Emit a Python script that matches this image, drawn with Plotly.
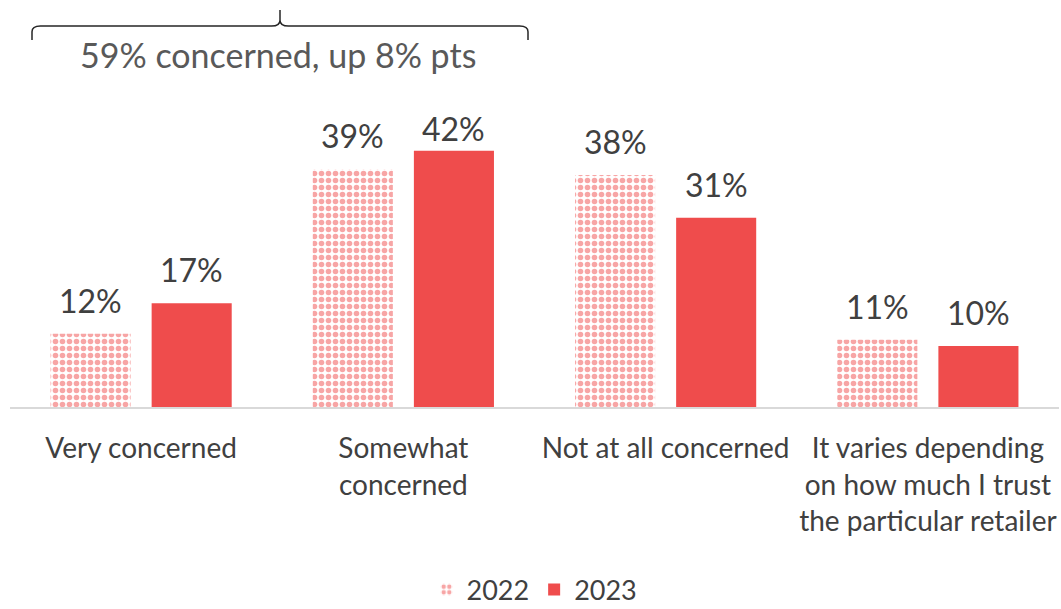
import plotly.graph_objects as go

categories = [
    "Very concerned",
    "Somewhat<br>concerned",
    "Not at all concerned",
    "It varies depending<br>on how much I trust<br>the particular retailer",
]
values_2022 = [12, 39, 38, 11]
values_2023 = [17, 42, 31, 10]
series_names = ["2022", "2023"]
bracket_text = "59% concerned, up 8% pts"

RED = "#EF4C4C"
TEXT = "#404040"
FONT = "Lato"

W, H = 1061, 609
M_L, M_R, M_T, M_B = 10, 2, 114, 202
PLOT_H = H - M_T - M_B
Y_MAX = 48
LABEL_CEIL = 42.1  # labels never sit higher than this value level


def py(pix):
    """Convert a pixel row on the canvas into paper y units."""
    return (H - M_B - pix) / PLOT_H


def px(pix):
    """Convert a pixel column on the canvas into paper x units."""
    return (pix - M_L) / (W - M_L - M_R)


fig = go.Figure()
fig.add_trace(go.Bar(
    name=series_names[0], x=categories, y=values_2022,
    marker=dict(color="white", line=dict(width=0),
                pattern=dict(shape=".", fgcolor=RED, bgcolor="white",
                             size=7, solidity=0.5, fillmode="overlay")),
))
fig.add_trace(go.Bar(
    name=series_names[1], x=categories, y=values_2023,
    marker=dict(color=RED, line=dict(width=0)),
))

# value labels above each bar, held below the top of the plot
units_per_px = Y_MAX / PLOT_H
annotations = []
for i, cat in enumerate(categories):
    for vals, shift in ((values_2022, -50.5), (values_2023, 50.5)):
        y_lab = min(vals[i] + 12 * units_per_px, LABEL_CEIL)
        annotations.append(dict(
            x=cat, y=y_lab, xref="x", yref="y", text=f"{vals[i]}%",
            showarrow=False, xshift=shift, yanchor="bottom",
            font=dict(family=FONT, size=32, color=TEXT),
        ))

annotations.append(dict(
    x=px(278), y=py(55), xref="paper", yref="paper", text=bracket_text,
    showarrow=False, xanchor="center", yanchor="middle",
    font=dict(family=FONT, size=34, color="#595959"),
))

# curly bracket spanning the two "concerned" categories
xl, xm, xr = px(32), px(280), px(528)
y_line, y_end, y_top = py(26), py(40), py(10)
r = 0.008
bracket = (
    f"M {xl},{y_end} L {xl},{y_line - 0.02} Q {xl},{y_line} {xl + r},{y_line} "
    f"L {xm - r},{y_line} Q {xm},{y_line} {xm},{y_line + 0.02} L {xm},{y_top} "
    f"M {xm},{y_line + 0.02} Q {xm},{y_line} {xm + r},{y_line} "
    f"L {xr - r},{y_line} Q {xr},{y_line} {xr},{y_line - 0.02} L {xr},{y_end}"
)

fig.update_layout(
    width=W, height=H,
    margin=dict(l=M_L, r=M_R, t=M_T, b=M_B, autoexpand=False),
    paper_bgcolor="white", plot_bgcolor="white",
    barmode="group", bargap=0.229, bargroupgap=0.208,
    font=dict(family=FONT, color=TEXT),
    annotations=annotations,
    shapes=[dict(type="path", xref="paper", yref="paper", path=bracket,
                 line=dict(color="#262626", width=1.5))],
    xaxis=dict(showline=True, linecolor="#D9D9D9", linewidth=1.5,
               ticks="", showgrid=False, automargin=False,
               ticklabelstandoff=16,
               tickfont=dict(family=FONT, size=28, color=TEXT)),
    yaxis=dict(range=[0, Y_MAX], visible=False, showgrid=False, zeroline=False),
    legend=dict(orientation="h", x=0.5, xanchor="center",
                yref="container", y=1 - 590 / H, yanchor="middle",
                font=dict(family=FONT, size=27, color=TEXT),
                itemwidth=30, traceorder="normal"),
)

fig.write_html("out.html")
